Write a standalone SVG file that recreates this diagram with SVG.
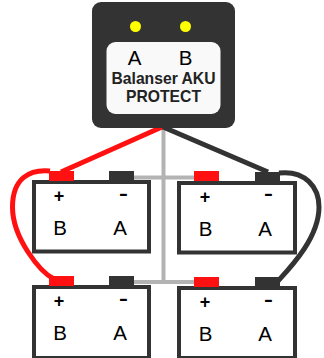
<svg xmlns="http://www.w3.org/2000/svg" width="324" height="358" viewBox="0 0 324 358">
<style>
text{font-family:"Liberation Sans",Arial,sans-serif;fill:#000;text-anchor:middle}
.bat{fill:#fff;stroke:#333;stroke-width:4}
.pos{fill:#f11}
.neg{fill:#333}
.plus{font-size:18px;font-weight:bold}
.minus{font-size:28px}
.big{font-size:20.500px}
.bold{font-size:15.700px;font-weight:bold;fill:#222}
.w{fill:none;stroke-width:5}
.g{fill:none;stroke-width:4}
</style>
<g id="connectors">
<path class="g" stroke="#b3b3b3" d="M163.500 126V284M134 177.500H194M134 282H194"/>
<path class="w" stroke="#f11" d="M162 127L61 172"/>
<path class="w" stroke="#333" d="M163 127L268 172"/>
<path class="w" stroke="#f11" d="M50 171C30 169 12.500 178 12.500 207C12.500 238 40 272 54 279"/>
<path class="w" stroke="#333" d="M279 173C305 170 319 187 319 207C319 238 290 268 278 281"/>
</g>
<g id="controller">
<rect x="92" y="2" width="143" height="126" rx="9" fill="#333"/>
<circle cx="135.500" cy="26.500" r="5.500" fill="#ff0"/>
<circle cx="185.500" cy="26.500" r="5.500" fill="#ff0"/>
<rect x="106.500" y="42" width="114" height="72" rx="9" fill="#f9f9f9"/>
<text class="big" x="134.500" y="65">A</text>
<text class="big" x="185.500" y="65">B</text>
<text class="bold" x="163.500" y="84">Balanser AKU</text>
<text class="bold" x="163.500" y="102">PROTECT</text>
</g>
<g id="battery-top-left">
<rect class="bat" x="34" y="182" width="115" height="69.500"/>
<rect class="pos" x="49" y="171" width="25" height="10"/>
<rect class="neg" x="109" y="171" width="25" height="10"/>
<text class="plus" x="59" y="201.500">+</text>
<text class="minus" x="123.500" y="202">-</text>
<text class="big" x="60" y="235">B</text>
<text class="big" x="120" y="235">A</text>
</g>
<g id="battery-top-right">
<rect class="bat" x="179" y="183" width="116" height="69.500"/>
<rect class="pos" x="194" y="171" width="25" height="10"/>
<rect class="neg" x="255" y="172" width="25" height="10"/>
<text class="plus" x="205" y="202.500">+</text>
<text class="minus" x="268.500" y="202">-</text>
<text class="big" x="205.500" y="236">B</text>
<text class="big" x="265" y="236">A</text>
</g>
<g id="battery-bottom-left">
<rect class="bat" x="34" y="287" width="115" height="71"/>
<rect class="pos" x="49" y="276" width="25" height="10"/>
<rect class="neg" x="109" y="276" width="25" height="10"/>
<text class="plus" x="59" y="307">+</text>
<text class="minus" x="123.500" y="307">-</text>
<text class="big" x="60" y="340">B</text>
<text class="big" x="120" y="340">A</text>
</g>
<g id="battery-bottom-right">
<rect class="bat" x="179" y="288" width="116" height="70"/>
<rect class="pos" x="194" y="277" width="25" height="10"/>
<rect class="neg" x="255" y="277" width="25" height="10"/>
<text class="plus" x="205" y="308">+</text>
<text class="minus" x="268.500" y="308">-</text>
<text class="big" x="205.500" y="341">B</text>
<text class="big" x="265" y="341">A</text>
</g>
</svg>
